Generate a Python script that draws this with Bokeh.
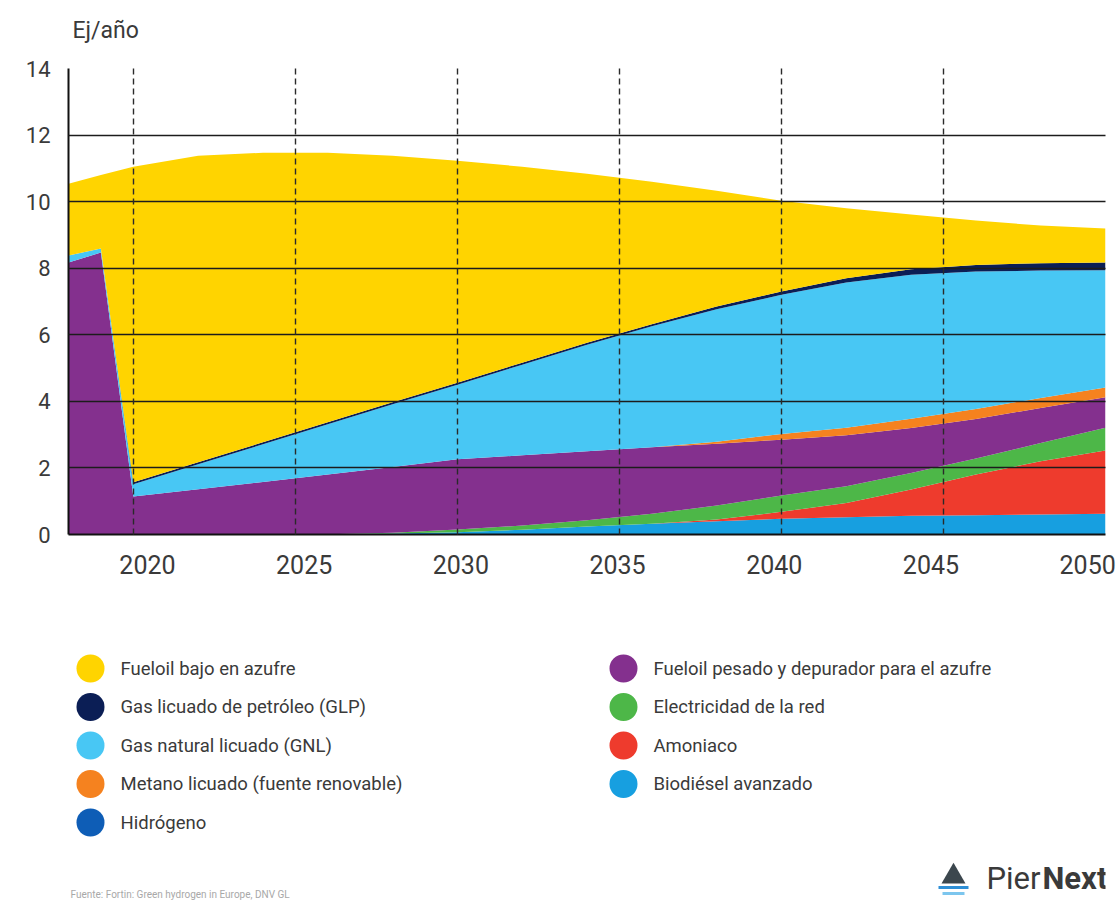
from bokeh.plotting import figure
from bokeh.models import Range1d, LinearAxis, FixedTicker, Grid, ColumnDataSource
from bokeh.layouts import column
from bokeh.embed import file_html
from bokeh.resources import INLINE
from bokeh.core.properties import value

# ---------------- data (Ej/año) ----------------
years = [2018, 2019, 2020, 2022, 2024, 2026, 2028, 2030, 2032, 2034,
         2036, 2038, 2040, 2042, 2044, 2046, 2048, 2050]

biodiesel = [0, 0, 0, 0, 0, 0.01, 0.03, 0.07, 0.14, 0.24,
             0.32, 0.40, 0.47, 0.52, 0.56, 0.58, 0.60, 0.62]
hidrogeno = [0, 0, 0, 0, 0, 0, 0, 0, 0, 0,
             0, 0, 0, 0, 0, 0, 0, 0]
amoniaco = [0, 0, 0, 0, 0, 0, 0, 0, 0, 0,
            0, 0.05, 0.21, 0.43, 0.79, 1.22, 1.60, 1.90]
electricidad = [0, 0, 0, 0, 0, 0, 0.02, 0.08, 0.13, 0.19,
                0.30, 0.42, 0.49, 0.50, 0.50, 0.48, 0.55, 0.69]
fueloil_pesado = [8.17, 8.47, 1.14, 1.36, 1.58, 1.79, 1.98, 2.11, 2.11, 2.07,
                  2.00, 1.86, 1.68, 1.53, 1.35, 1.19, 1.05, 0.91]
metano = [0, 0, 0, 0, 0, 0, 0, 0, 0, 0,
          0, 0.06, 0.17, 0.23, 0.28, 0.30, 0.30, 0.30]
gnl = [0.21, 0.12, 0.37, 0.75, 1.13, 1.51, 1.88, 2.24, 2.72, 3.20,
       3.64, 3.98, 4.18, 4.36, 4.32, 4.13, 3.83, 3.52]
glp = [0, 0, 0.06, 0.06, 0.06, 0.06, 0.06, 0.06, 0.06, 0.06,
       0.06, 0.08, 0.10, 0.13, 0.17, 0.20, 0.22, 0.23]
fueloil_bajo = [2.16, 2.21, 9.48, 9.21, 8.70, 8.10, 7.41, 6.67, 5.89, 5.08,
                4.28, 3.48, 2.73, 2.10, 1.64, 1.33, 1.13, 1.02]

y_ticks = [0, 2, 4, 6, 8, 10, 12, 14]
x_ticks = [2020, 2025, 2030, 2035, 2040, 2045, 2050]

# legend (two columns, as in the original)
legend_names = ["Fueloil bajo en azufre", "Gas licuado de petróleo (GLP)",
                "Gas natural licuado (GNL)", "Metano licuado (fuente renovable)",
                "Hidrógeno", "Fueloil pesado y depurador para el azufre",
                "Electricidad de la red", "Amoniaco", "Biodiésel avanzado"]
legend_colors = ["#FFD400", "#0B1E55", "#48C7F4", "#F5821F", "#0E5DB6",
                 "#84308E", "#4DB748", "#EE3B2D", "#179FE0"]

# stacking order bottom -> top
stack_keys = ["bio", "h2", "nh3", "elec", "hfo", "lbm", "lng", "lpg", "vlsfo"]
stack_colors = ["#179FE0", "#0E5DB6", "#EE3B2D", "#4DB748", "#84308E",
                "#F5821F", "#48C7F4", "#0B1E55", "#FFD400"]

FONT = "Roboto"
TXT = "#3a3a3a"

W = 1120
ML, MR = 68, 15
H0, H1, H2 = 50, 548, 302


def blank(height, y0):
    f = figure(width=W, height=height, x_range=Range1d(ML, W - MR),
               y_range=Range1d(y0 + height, y0), output_backend="svg",
               toolbar_location=None, min_border_left=ML, min_border_right=MR,
               min_border_top=0, min_border_bottom=0,
               x_axis_location=None, y_axis_location=None)
    f.outline_line_color = None
    f.background_fill_color = "white"
    f.border_fill_color = "white"
    f.title.visible = False
    for g in f.grid:
        g.visible = False
    return f


# ---------------- unit label strip ----------------
p0 = blank(H0, 0)
p0.text(x=[72], y=[30], text=["Ej/año"], text_font=value(FONT), text_font_size="23px",
        text_baseline="middle", text_color=TXT)

# ---------------- main chart ----------------
src = ColumnDataSource(dict(year=years, bio=biodiesel, h2=hidrogeno, nh3=amoniaco,
                            elec=electricidad, hfo=fueloil_pesado, lbm=metano,
                            lng=gnl, lpg=glp, vlsfo=fueloil_bajo))

p = figure(width=W, height=H1, x_range=Range1d(2018, 2050), y_range=Range1d(0, 14),
           x_axis_location=None, output_backend="svg", toolbar_location=None,
           min_border_left=ML, min_border_right=MR, min_border_top=68 - H0,
           min_border_bottom=64)
p.outline_line_color = None
p.background_fill_color = "white"
p.border_fill_color = "white"
p.title.visible = False

p.varea_stack(stackers=stack_keys, x="year", color=stack_colors, source=src)

for g in p.xgrid:
    g.visible = False
p.ygrid.ticker = FixedTicker(ticks=y_ticks)
p.ygrid.grid_line_color = "#1c1c1c"
p.ygrid.grid_line_width = 1.7
p.ygrid.level = "overlay"

vgrid = Grid(dimension=0, ticker=FixedTicker(ticks=x_ticks), grid_line_color="#2a2a2a",
             grid_line_width=1.4, grid_line_dash="6 4", level="overlay")
p.add_layout(vgrid)

p.yaxis.ticker = FixedTicker(ticks=y_ticks)
p.yaxis.axis_line_color = "#111111"
p.yaxis.axis_line_width = 2
p.yaxis.major_tick_line_color = None
p.yaxis.minor_tick_line_color = None
p.yaxis.major_label_text_font = FONT
p.yaxis.major_label_text_font_size = "22px"
p.yaxis.major_label_text_color = TXT
p.yaxis.major_label_standoff = 12

p.extra_x_ranges = {"lab": Range1d(2017.48, 2050.57)}
xa = LinearAxis(x_range_name="lab", ticker=FixedTicker(ticks=x_ticks),
                axis_line_color="#111111", axis_line_width=2,
                major_tick_line_color=None, minor_tick_line_color=None,
                major_label_text_font=FONT, major_label_text_font_size="25px",
                major_label_text_color=TXT, major_label_standoff=14)
p.add_layout(xa, "below")

# ---------------- legend + footer (page-pixel coordinates) ----------------
p2 = blank(H2, H0 + H1)

lx = [90 + (i // 5) * 533 for i in range(len(legend_names))]
ly = [668 + (i % 5) * 38.5 for i in range(len(legend_names))]
p2.scatter(x=lx, y=ly, size=28, color=legend_colors, line_color=None)
p2.text(x=[v + 30 for v in lx], y=ly, text=legend_names, text_font=value(FONT),
        text_font_size="18.5px", text_baseline="middle", text_color=TXT)

p2.text(x=[70], y=[894], text=["Fuente: Fortin: Green hydrogen in Europe, DNV GL"],
        text_font=value(FONT), text_font_size="10px", text_baseline="middle",
        text_color="#a8a8a8")

# PierNext logo
p2.scatter(x=[953], y=[876], marker="triangle", size=24, color="#3c474e", line_color=None)
p2.scatter(x=[953, 953], y=[887, 893], marker="dash", size=[30, 22],
           line_color=["#2e8fd6", "#7cc6ee"], line_width=3)
p2.text(x=[986], y=[878], text=["Pier"], text_font=value(FONT), text_font_size="31px",
        text_baseline="middle", text_color="#3a3a3a")
p2.text(x=[1042], y=[878], text=["Next"], text_font=value(FONT), text_font_size="31px",
        text_font_style="bold", text_baseline="middle", text_color="#3a3a3a")

layout = column(p0, p, p2)
open("out.html", "w").write(file_html(layout, INLINE))
